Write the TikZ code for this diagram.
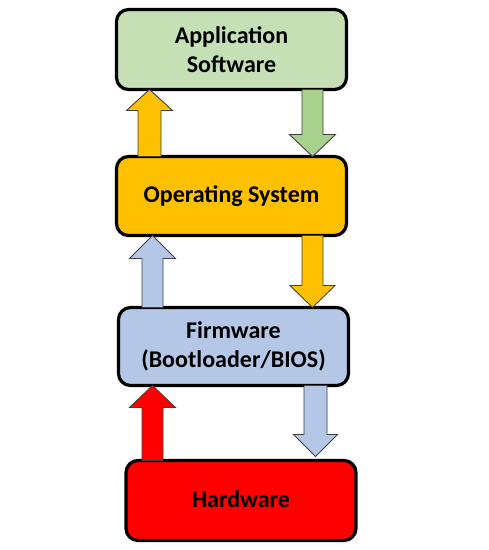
\documentclass[tikz,border=0pt]{standalone}
\usepackage{fontspec}
\setmainfont{Carlito}
\usetikzlibrary{calc}
\definecolor{appgreen}{HTML}{C5E0B4}
\definecolor{arrgreen}{HTML}{A9D18E}
\definecolor{osorange}{HTML}{FFC000}
\definecolor{fwblue}{HTML}{B4C7E7}
\definecolor{hwred}{HTML}{FF0000}
\tikzset{
  layer/.style={draw=black, line width=3.2pt, rounded corners=12pt, outer sep=0pt,
    minimum width=230pt, align=center, font=\fontsize{24}{29}\selectfont\bfseries, text=black},
  arrowline/.style={draw=black!75, line width=0.9pt, line join=miter}
}
% #1 fill, #2 from, #3 to, #4 shaft half width, #5 head half width, #6 head length
\newcommand\blockarr[6]{%
  \draw[arrowline, fill=#1] let \p1=(#2), \p2=(#3), \n1={(\y2>\y1) ? 1 : -1} in
    ({\x1-#4},\y1) -- ({\x1-#4},{\y2-\n1*#6}) -- ({\x1-#5},{\y2-\n1*#6}) -- (\x1,\y2)
    -- ({\x1+#5},{\y2-\n1*#6}) -- ({\x1+#4},{\y2-\n1*#6}) -- ({\x1+#4},\y1) -- cycle;}
\begin{document}
\begin{tikzpicture}[x=1pt,y=1pt]
\useasboundingbox (0,0) rectangle (489,-550);
\fill[white] (0,0) rectangle (489,-550);
% column coordinates
\coordinate (c1) at (149.5,0);
\coordinate (c2) at (312.5,0);
\coordinate (c3) at (152.5,0);
\coordinate (c4) at (312.5,0);
\coordinate (c5) at (152.5,0);
\coordinate (c6) at (315.5,0);
% layers
\node[layer, fill=appgreen, minimum height=80pt] (app) at (231.5,-49.5) {Application\\Software};
\node[layer, fill=osorange, minimum height=79pt] (os) at (231.5,-196) {\raisebox{2pt}{Operating System}};
\node[layer, fill=fwblue, minimum height=78pt] (fw) at (233.5,-346.5) {Firmware\\(Bootloader/BIOS)};
\node[layer, fill=hwred, minimum height=80pt] (hw) at (241,-500.5) {\raisebox{3pt}{Hardware}};
\coordinate (a6end) at ($(hw.north -| c6)+(0,4)$);
% arrows between layers
\blockarr{osorange}{os.north -| c1}{app.south -| c1}{11.5pt}{23pt}{21pt}
\blockarr{arrgreen}{app.south -| c2}{os.north -| c2}{10.5pt}{23pt}{22pt}
\blockarr{fwblue}{fw.north -| c3}{os.south -| c3}{10.5pt}{23pt}{23pt}
\blockarr{osorange}{os.south -| c4}{fw.north -| c4}{10.5pt}{22.5pt}{22pt}
\blockarr{hwred}{hw.north -| c5}{fw.south -| c5}{10.5pt}{23pt}{22pt}
\blockarr{fwblue}{fw.south -| c6}{a6end}{11.5pt}{22pt}{22pt}
\end{tikzpicture}
\end{document}
